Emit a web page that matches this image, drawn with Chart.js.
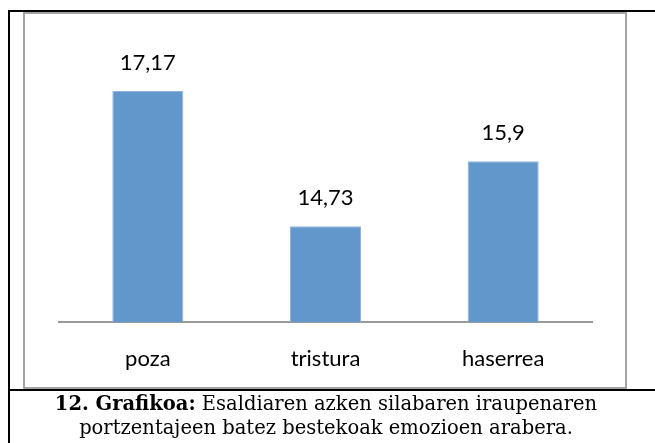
<!DOCTYPE html>
<html>
<head>
<meta charset="utf-8">
<script src="https://cdn.jsdelivr.net/npm/chart.js@4/dist/chart.umd.min.js"></script>
<style>
  html, body { margin: 0; padding: 0; background: #fff; }
  #wrap { position: relative; width: 655px; height: 443px; overflow: hidden; }
  #c { position: absolute; left: 0; top: 0; }
  .bl { position: absolute; background: #000; }
  #gbox { position: absolute; left: 23px; top: 12px; width: 600px; height: 373px;
          border: 2px solid #a3a3a3; box-sizing: content-box; }
  #cap { position: absolute; left: 10px; width: 632px; top: 392px; text-align: center;
         font-family: "DejaVu Serif", "Liberation Serif", serif; font-size: 19.5px; line-height: 24px; color: #000; }
</style>
</head>
<body>
<div id="wrap">
  <div id="gbox"></div>
  <canvas id="c" width="655" height="443"></canvas>
  <div class="bl" style="left:8px; top:10px; width:647px; height:2px;"></div>
  <div class="bl" style="left:8px; top:10px; width:2px; height:433px;"></div>
  <div class="bl" style="left:8px; top:389px; width:647px; height:2px;"></div>
  <div id="cap"><b>12. Grafikoa:</b> Esaldiaren azken silabaren iraupenaren<br>portzentajeen batez bestekoak emozioen arabera.</div>
</div>
<script>
const categories = ["poza", "tristura", "haserrea"];
const values = [17.17, 14.73, 15.9];
const yMin = 13;
const yMax = 18;

const valueLabelPlugin = {
  id: 'valueLabels',
  afterDatasetsDraw(chart) {
    const ctx = chart.ctx;
    const meta = chart.getDatasetMeta(0);
    ctx.save();
    ctx.font = '22px Lato';
    ctx.fillStyle = '#000';
    ctx.textAlign = 'center';
    ctx.textBaseline = 'middle';
    meta.data.forEach((bar, i) => {
      const txt = String(values[i]).replace('.', ',');
      ctx.fillText(txt, bar.x, bar.y - 28);
    });
    ctx.restore();
  }
};

new Chart(document.getElementById('c'), {
  type: 'bar',
  data: {
    labels: categories,
    datasets: [{
      data: values,
      backgroundColor: '#6197cb',
      borderColor: '#8fb4df',
      borderWidth: 1,
      barPercentage: 0.4,
      categoryPercentage: 1.0
    }]
  },
  options: {
    responsive: false,
    animation: false,
    devicePixelRatio: 1,
    layout: { padding: { left: 59, right: 63, top: 45, bottom: 0 } },
    plugins: { legend: { display: false }, tooltip: { enabled: false } },
    scales: {
      y: { display: false, min: yMin, max: yMax },
      x: {
        grid: { display: false, drawTicks: false },
        border: { display: true, color: '#999999', width: 2 },
        ticks: { color: '#000', font: { family: 'Lato', size: 22 }, padding: 24, maxRotation: 0 },
        afterFit(scale) { scale.height = 121; }
      }
    }
  },
  plugins: [valueLabelPlugin]
});
</script>
</body>
</html>
